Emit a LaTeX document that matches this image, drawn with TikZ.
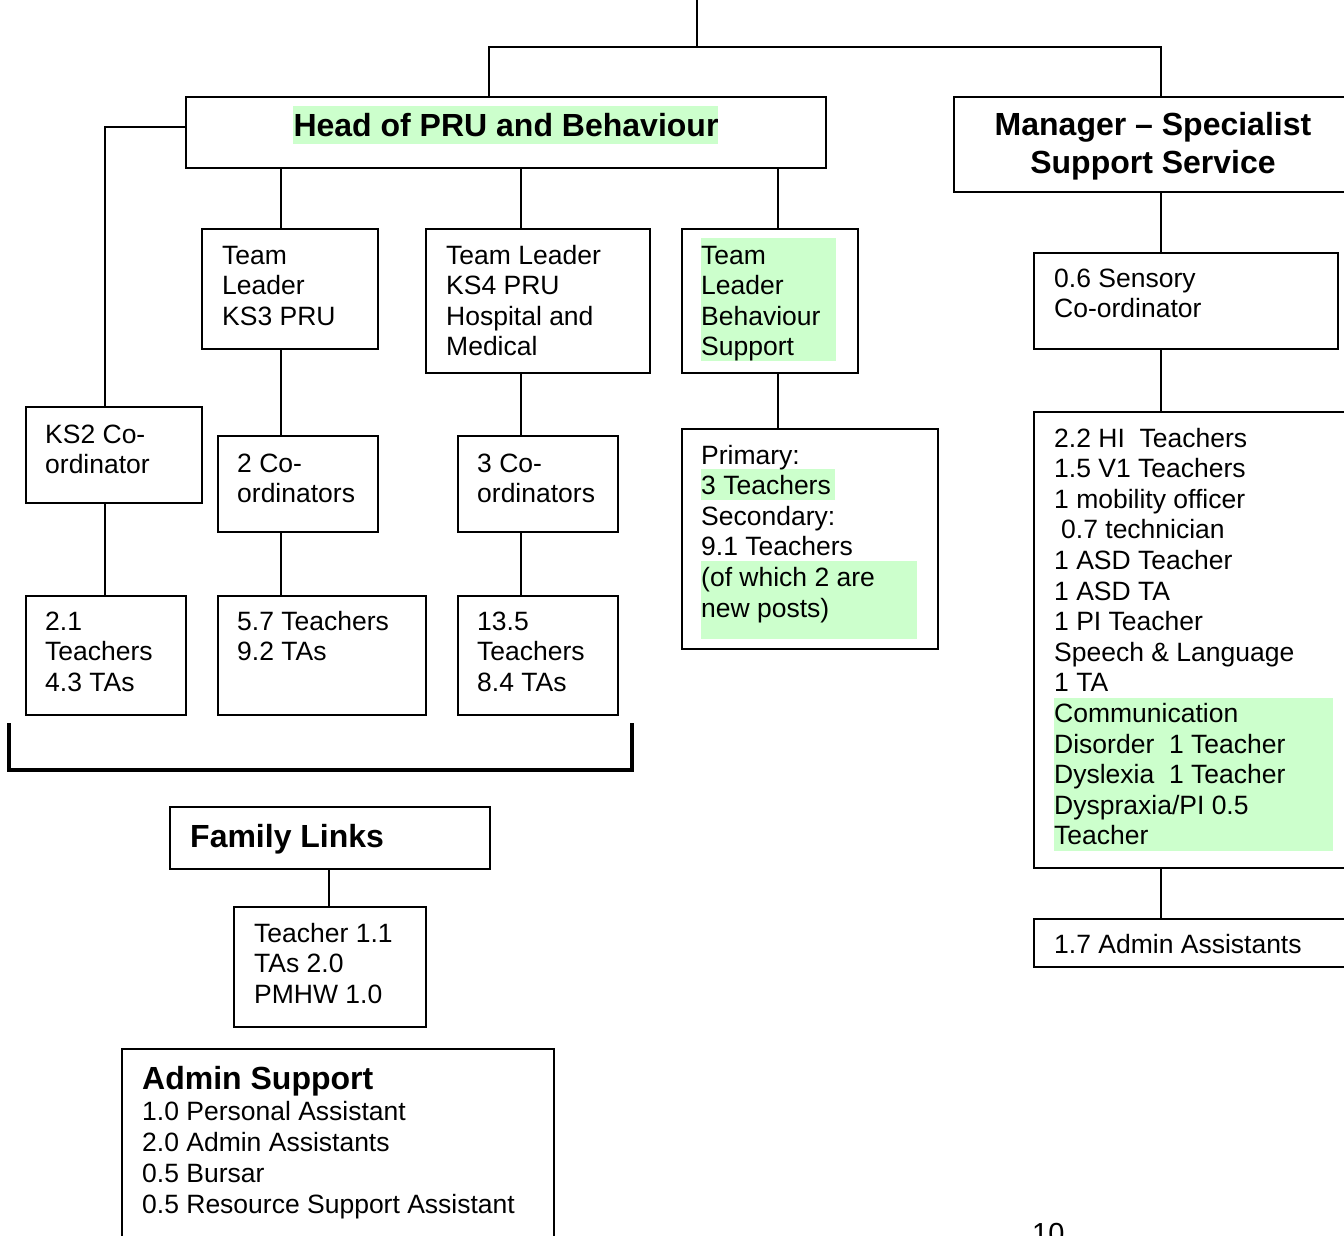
\documentclass[tikz,border=0pt]{standalone}
\usepackage{fontspec}
\setmainfont{Liberation Sans}
\definecolor{hl}{HTML}{CCFFCC}
\tikzset{
  box/.style={draw, line width=2, anchor=north west, inner sep=0},
  conn/.style={line width=1.7},
  txt/.style={anchor=base west, inner sep=0, font=\fontsize{26.5}{30.6}\selectfont},
  btxt/.style={inner sep=0, font=\fontsize{32}{37}\selectfont\bfseries},
}
\newcommand\bx[5]{\node[box, minimum width={#4-#2}, minimum height={#5-#3}] (#1) at (#2,#3) {};}
\newcommand\tlines[4]{\foreach \tl [count=\ti from 0] in {#4}{\node[txt] (#1\ti) at (#2,{#3+\ti*30.6}) {\tl};}}
\begin{document}
\begin{tikzpicture}[x=1pt,y=-1pt]
\useasboundingbox (0,0) rectangle (1344,1236);
\clip (0,0) rectangle (1344,1236);
% highlights
\fill[hl] (293,106) rectangle (718,144);
\fill[hl] (701,238) rectangle (836,361);
\fill[hl] (701,469) rectangle (835,500);
\fill[hl] (701,561) rectangle (917,639);
\fill[hl] (1054,698) rectangle (1333,851);
% boxes
\bx{head}{185}{96}{825}{167}
\bx{mgr}{953}{96}{1370}{191}
\bx{ks3}{201}{228}{377}{348}
\bx{ks4}{425}{228}{649}{372}
\bx{beh}{681}{228}{857}{372}
\bx{ks2}{25}{406}{201}{502}
\bx{co2}{217}{435}{377}{531}
\bx{co3}{457}{435}{617}{531}
\bx{prim}{681}{428}{937}{648}
\bx{t21}{25}{595}{185}{714}
\bx{t57}{217}{595}{425}{714}
\bx{t135}{457}{595}{617}{714}
\bx{fam}{169}{806}{489}{868}
\bx{tfam}{233}{906}{425}{1026}
\bx{admsup}{121}{1048}{553}{1260}
\bx{sens}{1033}{252}{1337}{348}
\bx{big}{1033}{411}{1370}{867}
\bx{adm}{1033}{918}{1370}{966}
% connectors
\coordinate (topin) at (697,-5);
\coordinate (jt) at (697,47);
\coordinate (jl) at (489,47);
\coordinate (jr) at (1161,47);
\draw[conn] (topin) -- (jt);
\draw[conn] (489,0 |- head.north) -- (jl) -- (jr) -- (1161,0 |- mgr.north);
\draw[conn] (head.west |- 0,127) -- (105,127) -- (105,0 |- ks2.north);
\draw[conn] (281,0 |- head.south) -- (281,0 |- ks3.north);
\draw[conn] (521,0 |- head.south) -- (521,0 |- ks4.north);
\draw[conn] (778,0 |- head.south) -- (778,0 |- beh.north);
\draw[conn] (281,0 |- ks3.south) -- (281,0 |- co2.north);
\draw[conn] (521,0 |- ks4.south) -- (521,0 |- co3.north);
\draw[conn] (778,0 |- beh.south) -- (778,0 |- prim.north);
\draw[conn] (105,0 |- ks2.south) -- (105,0 |- t21.north);
\draw[conn] (281,0 |- co2.south) -- (281,0 |- t57.north);
\draw[conn] (521,0 |- co3.south) -- (521,0 |- t135.north);
\draw[conn] (329,0 |- fam.south) -- (329,0 |- tfam.north);
\draw[conn] (1161,0 |- mgr.south) -- (1161,0 |- sens.north);
\draw[conn] (1161,0 |- sens.south) -- (1161,0 |- big.north);
\draw[conn] (1161,0 |- big.south) -- (1161,0 |- adm.north);
% bracket
\coordinate (brl) at (9,723);
\coordinate (brr) at (632,723);
\draw[line width=4] (brl) -- (9,770) -- (632,770) -- (brr);
% texts
\node[btxt, anchor=base] (headt) at (506,137) {Head of PRU and Behaviour};
\node[btxt, anchor=base] (mgrt1) at (1153,136) {Manager – Specialist};
\node[btxt, anchor=base] (mgrt2) at (1153,173) {Support Service};
\tlines{ks3t}{222}{264}{Team, Leader, KS3 PRU}
\tlines{ks4t}{446}{264}{Team Leader, KS4 PRU, Hospital and, Medical}
\tlines{beht}{701}{264}{Team, Leader, Behaviour, Support}
\tlines{ks2t}{45}{443}{KS2 Co-, ordinator}
\tlines{co2t}{237}{472}{2 Co-, ordinators}
\tlines{co3t}{477}{472}{3 Co-, ordinators}
\tlines{primt}{701}{464}{Primary:, 3 Teachers, Secondary:, 9.1 Teachers, {(of which 2 are}, {new posts)}}
\tlines{t21t}{45}{630}{2.1, Teachers, 4.3 TAs}
\tlines{t57t}{237}{630}{5.7 Teachers, 9.2 TAs}
\tlines{t135t}{477}{630}{13.5, Teachers, 8.4 TAs}
\node[btxt, anchor=base west] (famt) at (190,847) {Family Links};
\tlines{tfamt}{254}{942}{Teacher 1.1, TAs 2.0, PMHW 1.0}
\node[btxt, anchor=base west] (admsupt) at (142,1089) {Admin Support};
\foreach \tl [count=\ti from 0] in {1.0 Personal Assistant, 2.0 Admin Assistants, 0.5 Bursar, 0.5 Resource Support Assistant}{\node[txt] (admsupl\ti) at (142,{1120+\ti*31}) {\tl};}
\tlines{senst}{1054}{287}{0.6 Sensory, Co-ordinator}
\tlines{bigt}{1054}{447}{2.2 HI\ \ Teachers, 1.5 V1 Teachers, 1 mobility officer, \hspace*{7pt}0.7 technician, 1 ASD Teacher, 1 ASD TA, 1 PI Teacher, Speech \& Language, 1 TA, Communication, Disorder\ \ 1 Teacher, Dyslexia\ \ 1 Teacher, Dyspraxia/PI 0.5, Teacher}
\tlines{admt}{1054}{953}{1.7 Admin Assistants}
\node[inner sep=0, anchor=base west, font=\fontsize{29}{33}\selectfont] (pgnum) at (1032,1243) {10};
\end{tikzpicture}
\end{document}
